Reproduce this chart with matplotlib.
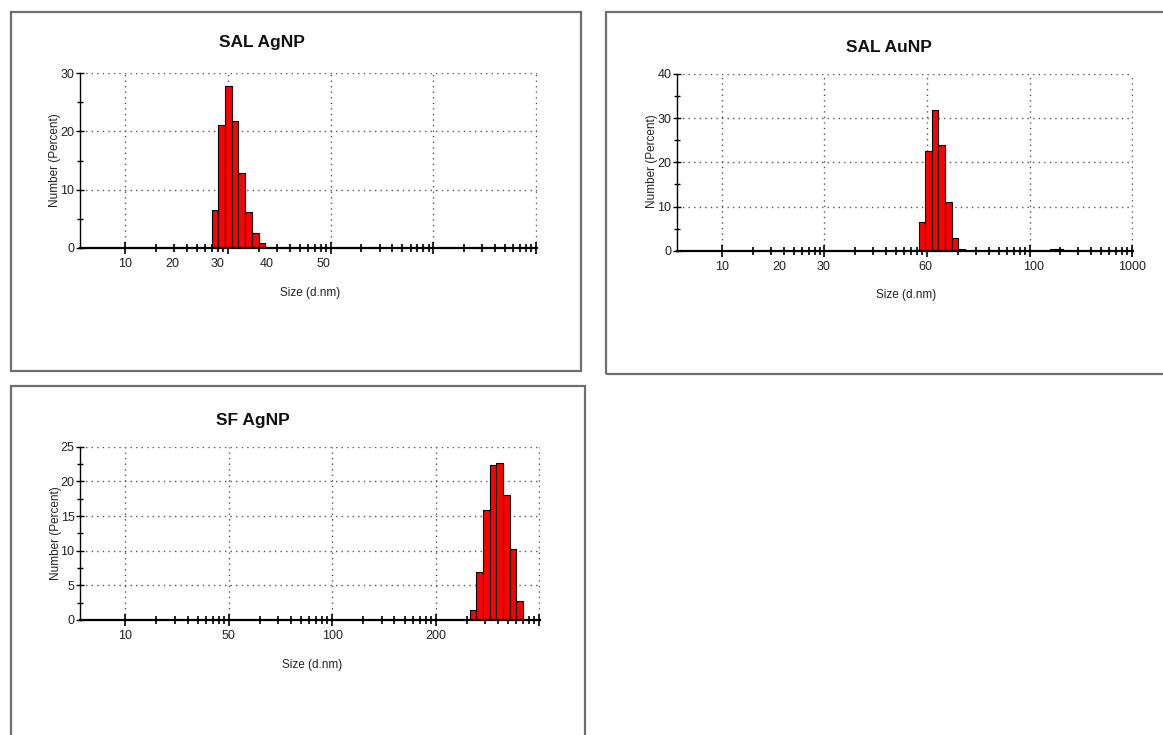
import matplotlib
matplotlib.use("Agg")
import matplotlib.pyplot as plt
from matplotlib.patches import Rectangle
from matplotlib.ticker import MultipleLocator, FixedLocator, NullFormatter
from matplotlib.transforms import offset_copy

# ---------------- data ----------------
# bin edges (underlying log-size axis, nm) and number percent per bin
sal_ag_edges = [6.98, 8.11, 9.42, 10.94, 12.71, 14.76, 17.14, 19.91, 23.12, 26.85]
sal_ag_pct = [6.6, 21.1, 27.7, 21.8, 12.9, 6.2, 2.6, 0.8, 0.2]

sal_au_edges = [83.2, 96.4, 111.7, 129.4, 150.0, 173.8, 201.4, 233.3]
sal_au_pct = [6.5, 22.6, 31.8, 24.0, 11.1, 2.8, 0.3]
sal_au_tail_edges = [1574, 1824, 2104]
sal_au_tail_pct = [0.3, 0.3]

sf_ag_edges = [2138, 2479, 2877, 3334, 3873, 4487, 5200, 6039, 6998]
sf_ag_pct = [1.4, 6.9, 15.9, 22.4, 22.7, 18.0, 10.2, 2.8]

# x tick labels as printed on each chart, and where they sit on the axis
sal_ag_tick_pos = [1, 2.9, 7.9, 24, 86]
sal_ag_tick_lab = ["10", "20", "30", "40", "50"]
sal_au_tick_pos = [1, 3.6, 9.8, 97, 1090, 10000]
sal_au_tick_lab = ["10", "20", "30", "60", "100", "1000"]
sf_ag_tick_pos = [1, 10, 100, 1000]
sf_ag_tick_lab = ["10", "50", "100", "200"]

titles = ["SAL AgNP", "SAL AuNP", "SF AgNP"]
xlabel = "Size (d.nm)"
ylabel = "Number (Percent)"

# ---------------- figure ----------------
W, H = 1163, 735
plt.rcParams["font.family"] = ["Liberation Sans", "DejaVu Sans"]
fig = plt.figure(figsize=(W / 100, H / 100), dpi=100)
fig.patch.set_facecolor("white")

def fx(x):
    return x / W

def fy(y):
    return 1 - y / H

def add_box(l, t, r, b):
    fig.add_artist(Rectangle((fx(l), fy(b)), (r - l) / W, (b - t) / H,
                             transform=fig.transFigure, fill=False,
                             edgecolor="#6e6e6e", lw=1.6))

def px_axes(l, t, r, b):
    return fig.add_axes([fx(l), fy(b), (r - l) / W, (b - t) / H])

add_box(10.7, 11.7, 581, 370.5)
add_box(606, 11.7, 1180, 374)
add_box(10.7, 385.5, 585, 760)

decades = [1, 10, 100, 1000, 10000]
minors = [m * 10 ** e for e in range(0, 4) for m in range(2, 10)]

def draw_panel(ax, edges, pct, ymax, ymaj, ymin, tpos, tlab, extra=None):
    lefts = edges[:-1]
    widths = [edges[i + 1] - edges[i] for i in range(len(edges) - 1)]
    ax.set_xscale("log")
    ax.bar(lefts, pct, width=widths, align="edge", color="#ff0000",
           edgecolor="black", linewidth=0.8, zorder=3)
    if extra is not None:
        e2, p2 = extra
        ax.bar(e2[:-1], p2, width=[e2[i + 1] - e2[i] for i in range(len(e2) - 1)],
               align="edge", color="#ff0000", edgecolor="black", linewidth=0.8, zorder=3)
    ax.set_xlim(0.365, 10200)
    ax.set_ylim(0, ymax)
    ax.xaxis.set_major_locator(FixedLocator(decades))
    ax.xaxis.set_minor_locator(FixedLocator(minors))
    ax.xaxis.set_major_formatter(NullFormatter())
    ax.xaxis.set_minor_formatter(NullFormatter())
    ax.yaxis.set_major_locator(MultipleLocator(ymaj))
    ax.yaxis.set_minor_locator(MultipleLocator(ymin))
    ax.grid(True, which="major", linestyle=(0, (1, 3)), color="#555555", lw=1.0, zorder=1)
    for s in ("top", "right"):
        ax.spines[s].set_visible(False)
    ax.spines["bottom"].set_linewidth(1.6)
    ax.spines["left"].set_linewidth(1.0)
    ax.spines["bottom"].set_zorder(4)
    ax.tick_params(axis="x", which="major", direction="inout", length=8, width=1.2)
    ax.tick_params(axis="x", which="minor", direction="inout", length=6, width=1.2)
    ax.tick_params(axis="y", which="major", direction="inout", length=6, width=1.0,
                   labelsize=9, pad=1, labelcolor="#222222")
    ax.tick_params(axis="y", which="minor", direction="inout", length=5, width=1.0)
    tr = offset_copy(ax.get_xaxis_transform(), fig=fig, x=0, y=-16, units="dots")
    for p, lab in zip(tpos, tlab):
        ax.text(p, 0, lab, transform=tr, ha="center", va="center", fontsize=9,
                color="#222222")

ax1 = px_axes(80, 73, 537, 248)
draw_panel(ax1, sal_ag_edges, sal_ag_pct, 30, 10, 5, sal_ag_tick_pos, sal_ag_tick_lab)

ax2 = px_axes(677, 74, 1133, 250.7)
draw_panel(ax2, sal_au_edges, sal_au_pct, 40, 10, 5, sal_au_tick_pos, sal_au_tick_lab,
           extra=(sal_au_tail_edges, sal_au_tail_pct))

ax3 = px_axes(80, 446.7, 540, 620)
draw_panel(ax3, sf_ag_edges, sf_ag_pct, 25, 5, 2.5, sf_ag_tick_pos, sf_ag_tick_lab)

title_font = dict(fontweight="bold", fontsize=12.5, ha="center", va="center",
                  color="#111111")
fig.text(fx(262), fy(42), titles[0], **title_font)
fig.text(fx(889), fy(47), titles[1], **title_font)
fig.text(fx(253), fy(420), titles[2], **title_font)

lab_font = dict(fontsize=8.5, ha="center", va="center", color="#222222")
fig.text(fx(310), fy(293), xlabel, **lab_font)
fig.text(fx(906), fy(295), xlabel, **lab_font)
fig.text(fx(312), fy(665), xlabel, **lab_font)

ylab_font = dict(fontsize=8.5, ha="center", va="center", rotation=90, color="#222222")
fig.text(fx(55), fy(160), ylabel, **ylab_font)
fig.text(fx(652), fy(161), ylabel, **ylab_font)
fig.text(fx(56), fy(533), ylabel, **ylab_font)

fig.savefig("out.png", dpi=100, facecolor="white")
